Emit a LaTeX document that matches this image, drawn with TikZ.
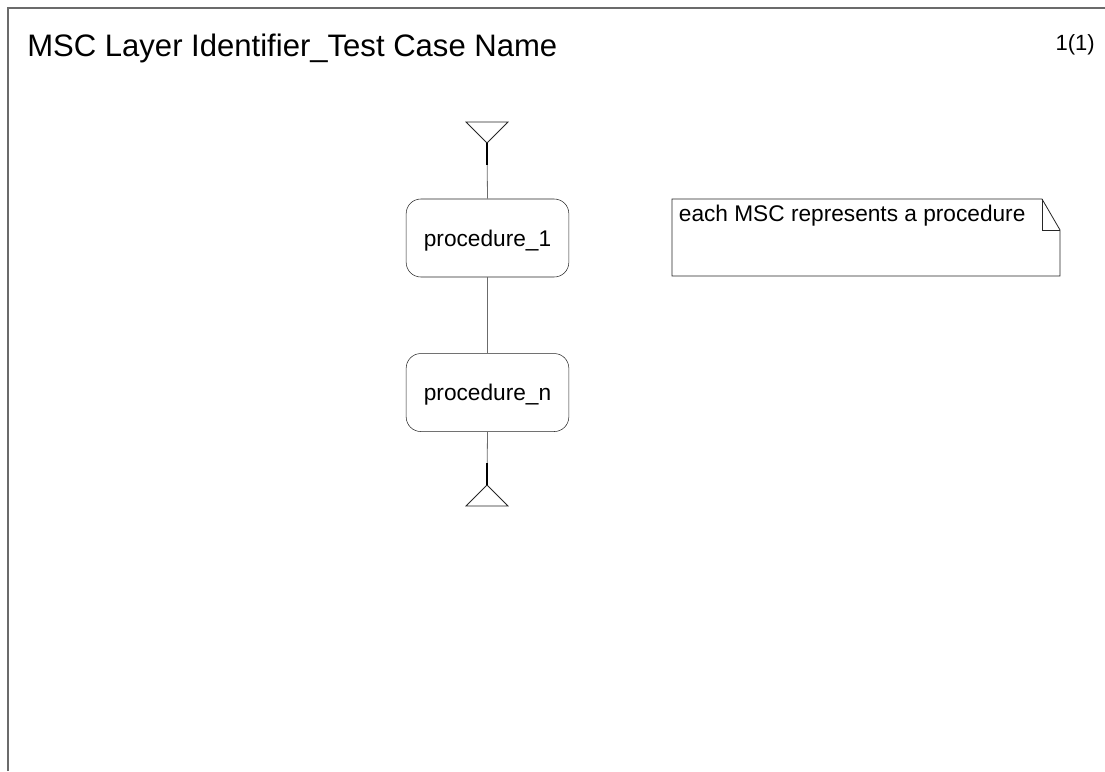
\documentclass[tikz,border=0pt]{standalone}
\usepackage{fontspec}
\setmainfont{Liberation Sans}
\usetikzlibrary{positioning, shapes.geometric, calc}

\definecolor{linegray}{gray}{0.42}

\begin{document}
\begin{tikzpicture}[
    x=0.75pt, y=-0.75pt,
    % Styles
    frame/.style={ % page frame
        draw=linegray,
        line width=1pt
    },
    refbox/.style={ % MSC reference
        rectangle,
        rounded corners=11pt,
        draw=black!85,
        minimum width=122pt,
        minimum height=58.5pt,
        text depth=0pt,
        font=\fontsize{17}{20}\selectfont
    },
    lifeline/.style={
        draw=linegray,
        line width=0.6pt
    },
    endline/.style={ % thick part at start and end
        draw=black,
        line width=1.4pt
    },
    endmark/.style={ % start and end triangles
        draw=black!85,
        line width=0.6pt
    },
    notetext/.style={
        anchor=north west,
        inner xsep=5pt,
        inner ysep=4.5pt,
        font=\fontsize{17}{20}\selectfont
    },
    notebox/.style={
        draw=black!85,
        line width=0.6pt
    }
]
    \useasboundingbox (0,0) rectangle (1105,771);

    % Frame and heading
    \draw[frame] (8,771) -- (8,8) -- (1105,8);
    \node[anchor=base west, inner sep=0pt, font=\fontsize{23.3}{27}\selectfont] (title) at (27,56) {MSC Layer Identifier\_Test Case Name};
    \node[anchor=base east, inner sep=0pt, font=\fontsize{16.5}{20}\selectfont] (page) at (1095,50) {1(1)};

    % Procedure references
    \node[refbox] (proc1) at (487.5,238) {procedure\_1};
    \node[refbox] (procn) [below=57pt of proc1] {procedure\_n};

    % Start and end of the MSC
    \coordinate (start) at (487,143);
    \coordinate (stop) at (487,485);
    \draw[endmark] (start) -- ++(-21,-21) -- ++(42,0) -- cycle;
    \draw[endmark] (stop) -- ++(-21,21) -- ++(42,0) -- cycle;

    % Lifeline
    \draw[lifeline] (start) -- (proc1.north);
    \draw[lifeline] (proc1.south) -- (procn.north);
    \draw[lifeline] (procn.south) -- (stop);
    \draw[endline] (start) -- ++(0,22);
    \draw[endline] (stop) -- ++(0,-22);

    % Comment
    \node[notetext] (note) at (672,199) {each MSC represents a procedure};
    \draw[notebox] (note.north west) -- ++(370,0) -- ++(18,31) -- ++(0,46) -- ++(-388,0) -- cycle;
    \draw[notebox] (note.north west) ++(370,0) -- ++(0,31) -- ++(18,0);
\end{tikzpicture}
\end{document}
